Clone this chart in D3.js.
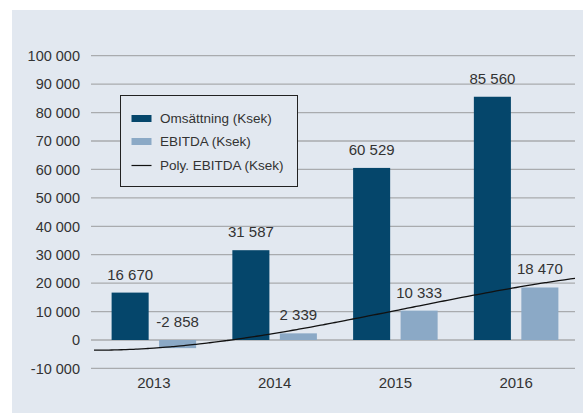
<!DOCTYPE html>
<html>
<head>
<meta charset="utf-8">
<script src="https://cdn.jsdelivr.net/npm/d3@7"></script>
<style>
  body { margin: 0; background: #fff; }
  text { font-family: "Liberation Sans", Arial, sans-serif; fill: #333; }
</style>
</head>
<body>
<div id="chart"></div>
<script>
const years = ["2013", "2014", "2015", "2016"];
const omsattning = [16670, 31587, 60529, 85560];
const ebitda = [-2858, 2339, 10333, 18470];
const yTicks = [-10000, 0, 10000, 20000, 30000, 40000, 50000, 60000, 70000, 80000, 90000, 100000];
const seriesNames = ["Omsättning (Ksek)", "EBITDA (Ksek)", "Poly. EBITDA (Ksek)"];

const width = 583,
  height = 413;

const colors = { oms: "#05466b", ebitda: "#8ba9c6", bg: "#e2e8f0", grid: "#a9abae" };

const locale = d3.formatLocale({ decimal: ",", thousands: " ", grouping: [3], currency: ["", ""], minus: "-" });
const fmt = locale.format(",d");

const svg = d3.select("#chart").append("svg")
  .attr("width", width)
  .attr("height", height);

// panel
svg.append("rect")
  .attr("x", 12).attr("y", 10)
  .attr("width", width - 12).attr("height", height - 10)
  .attr("fill", colors.bg);

const y = d3.scaleLinear()
  .domain([0, 100000])
  .range([340, 55.7]);

const x0 = d3.scaleBand()
  .domain(years)
  .range([93.5, 576.5])
  .paddingInner(0.3)
  .paddingOuter(0.15);

const x1 = d3.scaleBand()
  .domain(["oms", "ebitda"])
  .range([0, x0.bandwidth()])
  .paddingInner(0.22);

// gridlines
svg.append("g")
  .selectAll("line")
  .data(yTicks)
  .join("line")
  .attr("x1", 91).attr("x2", 575)
  .attr("y1", d => y(d)).attr("y2", d => y(d))
  .attr("stroke", colors.grid)
  .attr("stroke-width", 1.3);

svg.append("g")
  .selectAll("text")
  .data(yTicks)
  .join("text")
  .attr("x", 80)
  .attr("y", d => y(d))
  .attr("dy", "0.36em")
  .attr("text-anchor", "end")
  .attr("font-size", 14.5)
  .text(d => fmt(d));

// bars
const rows = years.map((yr, i) => ({ year: yr, oms: omsattning[i], ebitda: ebitda[i] }));

const groups = svg.append("g")
  .selectAll("g")
  .data(rows)
  .join("g")
  .attr("transform", d => `translate(${x0(d.year)},0)`);

groups.selectAll("rect")
  .data(d => ["oms", "ebitda"].map(k => ({ key: k, value: d[k] })))
  .join("rect")
  .attr("x", d => x1(d.key))
  .attr("width", x1.bandwidth())
  .attr("y", d => y(Math.max(0, d.value)))
  .attr("height", d => Math.abs(y(d.value) - y(0)))
  .attr("fill", d => colors[d.key]);

groups.selectAll("text.val")
  .data(d => ["oms", "ebitda"].map(k => ({ key: k, value: d[k] })))
  .join("text")
  .attr("class", "val")
  .attr("x", d => x1(d.key) + x1.bandwidth() / 2)
  .attr("y", d => y(Math.max(0, d.value)) - 13)
  .attr("text-anchor", "middle")
  .attr("font-size", 15)
  .text(d => fmt(d.value));

// category labels
svg.append("g")
  .selectAll("text")
  .data(years)
  .join("text")
  .attr("x", d => x0(d) + x0.bandwidth() / 2)
  .attr("y", 388)
  .attr("text-anchor", "middle")
  .attr("font-size", 15)
  .text(d => d);

// polynomial (order 3) trend line fitted to EBITDA, like the spreadsheet does
function polyFit(xs, ys, order) {
  const n = order + 1;
  const A = d3.range(n).map(r => d3.range(n + 1).map(() => 0));
  xs.forEach((xv, i) => {
    for (let r = 0; r < n; r++) {
      for (let c = 0; c < n; c++) A[r][c] += Math.pow(xv, r + c);
      A[r][n] += ys[i] * Math.pow(xv, r);
    }
  });
  for (let i = 0; i < n; i++) {
    let p = i;
    for (let k = i + 1; k < n; k++) if (Math.abs(A[k][i]) > Math.abs(A[p][i])) p = k;
    [A[i], A[p]] = [A[p], A[i]];
    for (let k = i + 1; k < n; k++) {
      const f = A[k][i] / A[i][i];
      for (let c = i; c <= n; c++) A[k][c] -= f * A[i][c];
    }
  }
  const coef = new Array(n).fill(0);
  for (let i = n - 1; i >= 0; i--) {
    let s = A[i][n];
    for (let c = i + 1; c < n; c++) s -= A[i][c] * coef[c];
    coef[i] = s / A[i][i];
  }
  return xv => coef.reduce((acc, c, k) => acc + c * Math.pow(xv, k), 0);
}

const idx = years.map((d, i) => i + 1);
const trend = polyFit(idx, ebitda, 3);
const xLin = d3.scaleLinear()
  .domain([1, 4])
  .range([x0(years[0]) + x0.bandwidth() / 2, x0(years[3]) + x0.bandwidth() / 2]);

svg.append("clipPath").attr("id", "plotclip")
  .append("rect").attr("x", 94).attr("y", 0).attr("width", 481).attr("height", height);

const line = d3.line()
  .x(d => xLin(d))
  .y(d => y(trend(d)))
  .curve(d3.curveBasis);

svg.append("path")
  .datum(d3.range(0.5, 4.5001, 0.05))
  .attr("clip-path", "url(#plotclip)")
  .attr("d", line)
  .attr("fill", "none")
  .attr("stroke", "#111")
  .attr("stroke-width", 1.3);

// legend
const legend = svg.append("g").attr("transform", "translate(120.5,95.5)");
legend.append("rect")
  .attr("width", 177).attr("height", 91)
  .attr("fill", colors.bg)
  .attr("stroke", "#222")
  .attr("stroke-width", 1);

const legendY = [23, 46, 70];
legend.append("rect").attr("x", 11).attr("y", legendY[0] - 3.5).attr("width", 20).attr("height", 7).attr("fill", colors.oms);
legend.append("rect").attr("x", 11).attr("y", legendY[1] - 3.5).attr("width", 20).attr("height", 7).attr("fill", colors.ebitda);
legend.append("line").attr("x1", 11).attr("x2", 31).attr("y1", legendY[2]).attr("y2", legendY[2])
  .attr("stroke", "#111").attr("stroke-width", 1.2);

legend.selectAll("text")
  .data(seriesNames)
  .join("text")
  .attr("x", 39.5)
  .attr("y", (d, i) => legendY[i])
  .attr("dy", "0.36em")
  .attr("font-size", 13.5)
  .text(d => d);
</script>
</body>
</html>
